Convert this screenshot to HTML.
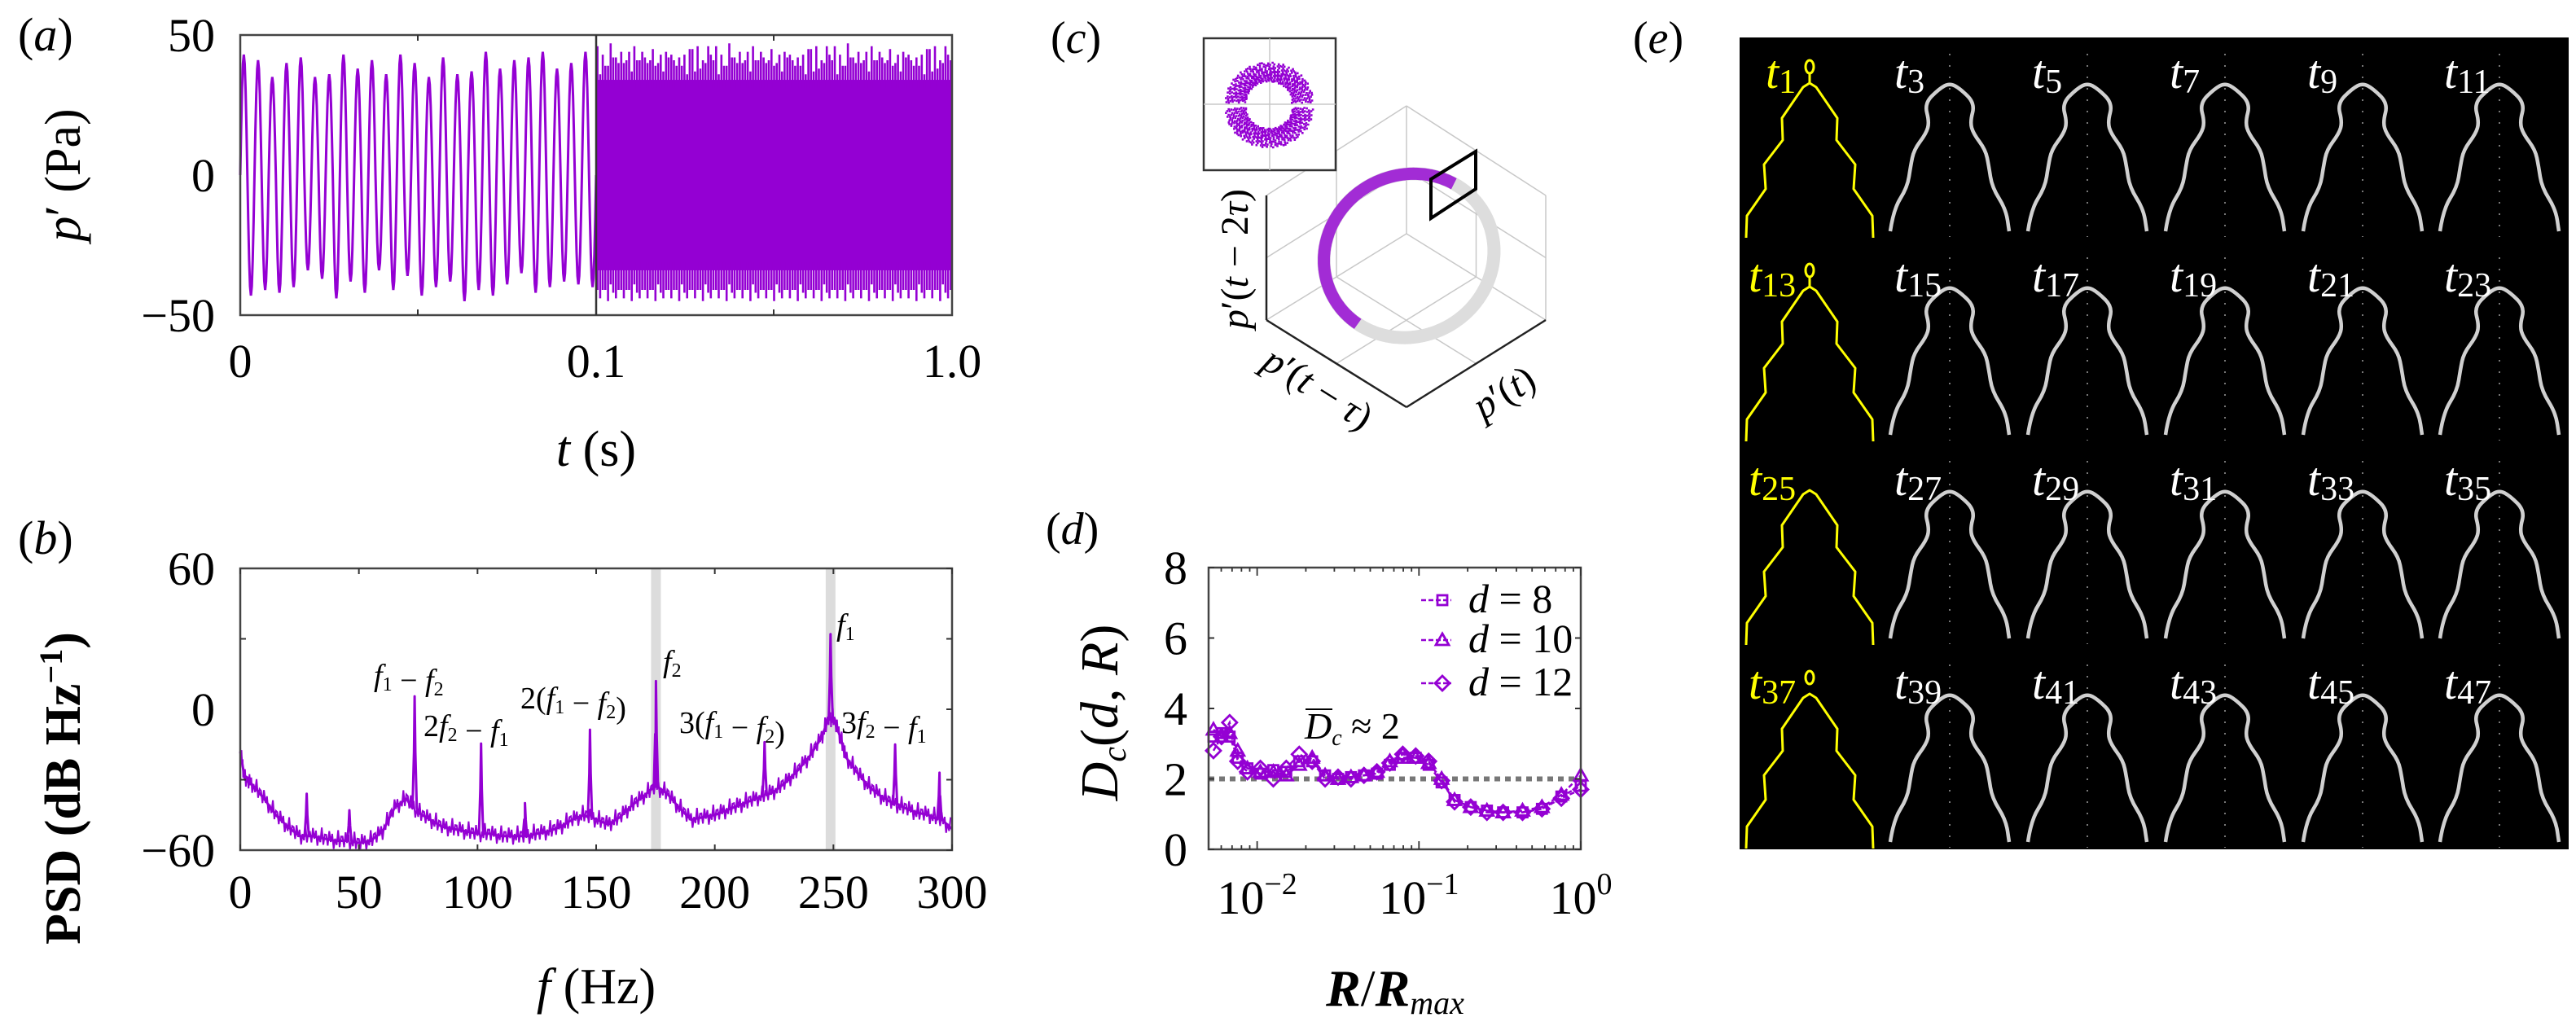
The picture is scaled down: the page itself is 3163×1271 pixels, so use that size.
<!DOCTYPE html>
<html><head><meta charset="utf-8">
<style>
html,body{margin:0;padding:0;background:#fff;}
svg{display:block;font-family:"Liberation Serif",serif;}
</style></head>
<body>
<svg id="fig" width="3163" height="1271" viewBox="0 0 3163 1271" xmlns="http://www.w3.org/2000/svg" font-family="Liberation Serif, serif">
<g id="pa"></g>
<g id="pb"></g>
<g id="pc"></g>
<g id="pd"></g>
<g id="pe"></g>
</svg>
<script>
// ---------- Panel (a) data ----------
const aPeaks = [43,41,35,40,42,35,36,43,38,41,36,43,40,35,42,36,37,44,38,41,42,44,38,40,44];
const aTroughs = [-43,-41,-42,-40,-34,-37,-44,-38,-42,-34,-41,-36,-43,-40,-38,-45,-41,-43,-39,-35,-42,-40,-38,-39,-40];
const aUpperEnv = [46,40,44,38,45,41,43,39,46,42,44,40,45,39,43,41,46,40,44,42,45,39,44,41,46,43,40,45,42,44,39,46,41,43,40,47,42,45,41,44,40,46,42,43,39];
const aLowerEnv = [-44,-40,-46,-41,-45,-39,-46,-42,-44,-40,-46,-41,-45,-43,-40,-46,-42,-45,-41,-44,-39,-46,-43,-45,-40,-47,-42,-45,-41,-46,-43,-40,-47,-42,-45,-41,-46,-40,-44,-42,-47,-41,-45,-43,-46];
const aCore = [34,-34];
const aTicksY = [50,0,-50];
const aTicksX = ["0","0.1","1.0"];
// ---------- Panel (b) data ----------
const bFreq = [0,2,5,10,15,20,25,30,35,40,45,50,55,60,65,70,75,80,85,90,95,100,105,110,115,120,125,130,135,140,145,150,155,160,165,170,175,180,185,190,195,200,205,210,215,220,225,230,235,240,245,248,250,253,255,260,265,270,275,280,285,290,295,300];
const bBase = [-18,-30,-32,-38,-45,-50,-54,-54,-55,-56,-56,-57,-56,-52,-42,-38,-44,-47,-50,-51,-52,-53,-53,-54,-54,-54,-53,-52,-50,-47,-45,-47,-49,-46,-41,-37,-33,-36,-42,-47,-46,-45,-43,-41,-39,-37,-35,-31,-26,-20,-12,-4,-4,-12,-20,-27,-33,-37,-40,-42,-44,-45,-47,-51];
const bPeakF = [28,46,73.5,101.5,120,147.4,175.2,221,248.8,276,294.7];
const bPeakV = [-36,-43,5.5,-14.6,-40,-8.7,12,-14,32,-15,-27];
const bTicksX = [0,50,100,150,200,250,300];
const bTicksY = [60,0,-60];
const bBands = [175.2,248.8];
// ---------- Panel (d) data ----------
const dLogR = [-2.27,-2.22,-2.17,-2.12,-2.06,-1.98,-1.90,-1.82,-1.74,-1.66,-1.58,-1.50,-1.42,-1.34,-1.26,-1.18,-1.10,-1.02,-0.94,-0.86,-0.78,-0.68,-0.58,-0.48,-0.36,-0.24,-0.12,0];
const dD8 = [3.2,3.3,3.2,2.6,2.3,2.15,2.25,2.2,2.5,2.5,2.1,2.0,2.05,2.1,2.15,2.4,2.6,2.6,2.4,1.9,1.4,1.2,1.1,1.05,1.05,1.15,1.5,1.8];
const dD10 = [3.4,3.2,3.3,2.8,2.3,2.2,2.2,2.1,2.4,2.6,2.1,2.0,2.05,2.1,2.2,2.5,2.7,2.6,2.45,2.0,1.4,1.2,1.1,1.05,1.1,1.2,1.55,2.1];
const dD12 = [2.8,3.2,3.6,2.5,2.2,2.3,2.0,2.3,2.7,2.5,2.0,2.05,2.0,2.1,2.2,2.45,2.7,2.65,2.5,1.95,1.35,1.2,1.05,1.05,1.05,1.15,1.45,1.7];
const dTicksY = [0,2,4,6,8];
const dMean = [2];
// ---------- Panel (e) data ----------
const eLabels = [1,3,5,7,9,11,13,15,17,19,21,23,25,27,29,31,33,35,37,39,41,43,45,47];

const NS="http://www.w3.org/2000/svg";
const PUR="#9400d3";
function mk(parent,tag,attrs){const e=document.createElementNS(NS,tag);for(const k in attrs)e.setAttribute(k,attrs[k]);parent.appendChild(e);return e;}
function txt(parent,x,y,s,size,extra){const t=mk(parent,"text",Object.assign({x:x,y:y,"font-size":size,"font-family":"Liberation Serif, serif"},extra||{}));t.innerHTML=s;return t;}
function smooth(p){let d="M"+p[0][0]+" "+p[0][1];for(let i=1;i<p.length-1;i++){const mx=(p[i][0]+p[i+1][0])/2,my=(p[i][1]+p[i+1][1])/2;d+=" Q"+p[i][0]+" "+p[i][1]+" "+mx+" "+my;}const l=p[p.length-1];d+=" L"+l[0]+" "+l[1];return d;}

// ================= Panel A =================
(function(){
const g=document.getElementById("pa");
const L=295,R=1169,T=43,B=387,M=732;
const ay=v=>215-v*(B-T)/100;
let lab=txt(g,22,62,"(<tspan font-style='italic'>a</tspan>)",58);


let d="M"+L+" "+ay(0);
const n=aPeaks.length, per=(M-L)/n;
for(let i=0;i<n;i++){
  for(let k=1;k<=16;k++){
    const ph=k/16; const x=L+per*(i+ph);
    const s=Math.sin(2*Math.PI*ph);
    const v=s>=0? s*aPeaks[i] : -s*aTroughs[i];
    d+=" L"+x.toFixed(2)+" "+ay(v).toFixed(2);
  }
}
let p=mk(g,"path",{d:d,fill:"none",stroke:PUR,"stroke-width":3});


let core=mk(g,"rect",{x:M,y:ay(aCore[0]),width:R-M,height:ay(aCore[1])-ay(aCore[0]),fill:PUR});


const m=aUpperEnv.length, reps=3, sp=(R-M)/(m*reps);
let du="", dl="";
for(let i=0;i<m*reps;i++){
  const x=M+sp*(i+0.5);
  const up=aUpperEnv[(i*7)%m]-(i%3===1?3:0), lo=aLowerEnv[(i*5+3)%m]+(i%3===2?2:0);
  du+="M"+x.toFixed(1)+" "+ay(aCore[0]-3).toFixed(1)+" L"+x.toFixed(1)+" "+ay(up).toFixed(1)+" ";
  dl+="M"+x.toFixed(1)+" "+ay(aCore[1]+3).toFixed(1)+" L"+x.toFixed(1)+" "+ay(lo).toFixed(1)+" ";
}
let pu=mk(g,"path",{d:du+dl,stroke:PUR,"stroke-width":2.6,fill:"none"});


let fr=mk(g,"rect",{x:L,y:T,width:R-L,height:B-T,fill:"none",stroke:"#444","stroke-width":2.5});


let br=mk(g,"line",{x1:M,y1:T,x2:M,y2:B,stroke:"#333","stroke-width":2.5});


[513,950].forEach(x=>{mk(g,"line",{x1:x,y1:T,x2:x,y2:T+7,stroke:"#333","stroke-width":2});mk(g,"line",{x1:x,y1:B,x2:x,y2:B-7,stroke:"#333","stroke-width":2});});
aTicksY.forEach(v=>{
  const t=txt(g,264,ay(v)+20,(v<0?"−":"")+Math.abs(v),58,{"text-anchor":"end"});
  
  
});
[[L,aTicksX[0]],[M,aTicksX[1]],[R,aTicksX[2]]].forEach(a=>{
  const t=txt(g,a[0],463,a[1],58,{"text-anchor":"middle"});
  
  
});
let xt=txt(g,732,572,"<tspan font-style='italic'>t</tspan> (s)",62,{"text-anchor":"middle"});


let yt=txt(g,0,0,"<tspan font-style='italic'>p</tspan>′ (Pa)",62,{"text-anchor":"middle",transform:"translate(98,215) rotate(-90)"});


})();

// ================= Panel B =================
(function(){
const g=document.getElementById("pb");
const L=295,R=1169,T=698,B=1044;
const bx=f=>L+f/300*(R-L);
const by=v=>871-v*(B-T)/120;
let lab=txt(g,22,680,"(<tspan font-style='italic'>b</tspan>)",58);


bBands.forEach(f=>{
  const r=mk(g,"rect",{x:bx(f)-6,y:T,width:12,height:B-T,fill:"#dcdcdc"});
  
  
});
let pts=bFreq.map((f,i)=>[f,bBase[i]]);
bPeakF.forEach((f,i)=>{
  let j=0; while(j<bFreq.length-1 && bFreq[j+1]<f) j++;
  const t=(f-bFreq[j])/(bFreq[j+1]-bFreq[j]);
  const base=bBase[j]+t*(bBase[j+1]-bBase[j]);
  pts.push([f-0.9,base],[f-0.3,(base+bPeakV[i])/2],[f,bPeakV[i]],[f+0.3,(base+bPeakV[i])/2],[f+0.9,base]);
});
pts.sort((a,b)=>a[0]-b[0]);
let d="";
pts.forEach((p,i)=>{d+=(i?" L":"M")+bx(p[0]).toFixed(1)+" "+by(p[1]).toFixed(1);});
let path=mk(g,"path",{d:d,fill:"none",stroke:PUR,"stroke-width":3,"stroke-linejoin":"round"});


let dn="";
const wig=[2,-3,4,-1,3,-4,1,-2,5,-3,2];
for(let i=0;i<bFreq.length-1;i++){
  for(let k=0;k<8;k++){
    const f=bFreq[i]+(bFreq[i+1]-bFreq[i])*k/8;
    const v=bBase[i]+(bBase[i+1]-bBase[i])*k/8;
    const off=wig[(i*8+k)%wig.length]*0.9;
    dn+=(i||k?" L":"M")+bx(f).toFixed(1)+" "+by(v+off).toFixed(1);
  }
}
let pn=mk(g,"path",{d:dn,fill:"none",stroke:PUR,"stroke-width":2});


let fr=mk(g,"rect",{x:L,y:T,width:R-L,height:B-T,fill:"none",stroke:"#444","stroke-width":2.5});


bTicksX.forEach(f=>{
  mk(g,"line",{x1:bx(f),y1:T,x2:bx(f),y2:T+7,stroke:"#333","stroke-width":2});
  mk(g,"line",{x1:bx(f),y1:B,x2:bx(f),y2:B-7,stroke:"#333","stroke-width":2});
  const t=txt(g,bx(f),1115,String(f),58,{"text-anchor":"middle"});
  
  
});
[-30,30].forEach(v=>{mk(g,"line",{x1:L,y1:by(v),x2:L+7,y2:by(v),stroke:"#333","stroke-width":2});mk(g,"line",{x1:R,y1:by(v),x2:R-7,y2:by(v),stroke:"#333","stroke-width":2});});
bTicksY.forEach(v=>{
  mk(g,"line",{x1:R,y1:by(v),x2:R-7,y2:by(v),stroke:"#333","stroke-width":2});
  const t=txt(g,264,by(v)+20,(v<0?"−":"")+Math.abs(v),58,{"text-anchor":"end"});
  
  
});
const I=s=>"<tspan font-style='italic'>"+s+"</tspan>";
const sub=s=>"<tspan font-size='24' dy='6'>"+s+"</tspan><tspan dy='-6'></tspan>";
const anns=[[459,842,I("f")+sub("1")+" − "+I("f")+sub("2")],[520,904,"2"+I("f")+sub("2")+" − "+I("f")+sub("1")],[639,870,"2("+I("f")+sub("1")+" − "+I("f")+sub("2")+")"],[814,825,I("f")+sub("2")],[834,900,"3("+I("f")+sub("1")+" − "+I("f")+sub("2")+")"],[1027,780,I("f")+sub("1")],[1033,900,"3"+I("f")+sub("2")+" − "+I("f")+sub("1")]];
anns.forEach(a=>{
  const t=txt(g,a[0],a[1],a[2],38);
  
  
});
let xt=txt(g,732,1232,"<tspan font-style='italic'>f</tspan> (Hz)",62,{"text-anchor":"middle"});


let yt=txt(g,0,0,"PSD (dB Hz<tspan font-size='40' dy='-22'>−1</tspan><tspan dy='22'>)</tspan>",62,{"text-anchor":"middle",transform:"translate(98,968) rotate(-90)","font-weight":"bold"});


})();

// ================= Panel C =================
(function(){
const g=document.getElementById("pc");
let lab=txt(g,1290,65,"(<tspan font-style='italic'>c</tspan>)",56);


const light="#c8c8c8", dark="#222";
const top=[1727,130],ctr=[1727,287],lt=[1555,240],lb=[1555,393],rt=[1898,240],rb=[1898,393],bot=[1727,500];
const ln=(a,b,c,w)=>mk(g,"line",{x1:a[0],y1:a[1],x2:b[0],y2:b[1],stroke:c,"stroke-width":w});
const mid=(a,b)=>[(a[0]+b[0])/2,(a[1]+b[1])/2];
let grid=[[ctr,top],[top,lt],[top,rt],[ctr,lb],[ctr,rb],[rt,rb],
 [mid(ctr,top),mid(lt,lb)],[mid(ctr,top),mid(rt,rb)],[mid(top,lt),mid(ctr,lb)],[mid(top,rt),mid(ctr,rb)],
 [mid(ctr,lb),mid(rb,bot)],[mid(ctr,rb),mid(lb,bot)]];
grid.forEach(s=>{const l=ln(s[0],s[1],light,1.5);});
const cx=1730,cy=314,rx=106,ry=99,phi=-0.5;
let dg="",dp="",firstP=true;
const N=360;
for(let i=0;i<=N;i++){
  const th=i/N*2*Math.PI;
  const x=cx+rx*Math.cos(th)*Math.cos(phi)-ry*Math.sin(th)*Math.sin(phi);
  const y=cy+rx*Math.cos(th)*Math.sin(phi)+ry*Math.sin(th)*Math.cos(phi);
  dg+=(i?" L":"M")+x.toFixed(1)+" "+y.toFixed(1);
  let a=Math.atan2(y-cy,x-cx)*180/Math.PI; if(a<0)a+=360;
  if(a>=126&&a<=303){dp+=(firstP?"M":" L")+x.toFixed(1)+" "+y.toFixed(1);firstP=false;}
}
let rg=mk(g,"path",{d:dg,fill:"none",stroke:"#dddddd","stroke-width":16});


let rp=mk(g,"path",{d:dp,fill:"none",stroke:PUR,"stroke-width":15,opacity:0.8});


[[lt,lb],[lb,bot],[bot,rb]].forEach(s=>{const l=ln(s[0],s[1],dark,2.5);});
let pl=mk(g,"polygon",{points:"1757,220 1812,186 1812,232 1757,268",fill:"none",stroke:"#000","stroke-width":4});


let ib=mk(g,"rect",{x:1478,y:47,width:162,height:162,fill:"#fff",stroke:"#333","stroke-width":2.5});


mk(g,"line",{x1:1478,y1:128,x2:1640,y2:128,stroke:light,"stroke-width":1.5});
mk(g,"line",{x1:1559,y1:47,x2:1559,y2:209,stroke:light,"stroke-width":1.5});
let dots="";
for(let i=0;i<800;i++){
  const th=i*2.39996;
  const fr2=(i*0.7548776)%1;
  const r=28+26*fr2;
  const x=1557+r*Math.cos(th);
  const y=125+r*Math.sin(th)*0.92+(Math.sin(th)>0?6:0);
  dots+="M"+x.toFixed(1)+" "+y.toFixed(1)+"h2.6v2.6h-2.6z";
}
let sc=mk(g,"path",{d:dots,fill:PUR});


const I=s=>"<tspan font-style='italic'>"+s+"</tspan>";
let l1=txt(g,0,0,I("p")+"′("+I("t")+" − 2"+I("τ")+")",48,{"text-anchor":"middle",transform:"translate(1532,318) rotate(-90)"});


let l2=txt(g,0,0,I("p")+"′("+I("t")+" − "+I("τ")+")",48,{"text-anchor":"middle",transform:"translate(1610,490) rotate(32)"});


let l3=txt(g,0,0,I("p")+"′("+I("t")+")",48,{"text-anchor":"middle",transform:"translate(1855,495) rotate(-32)"});


})();

// ================= Panel D =================
(function(){
const g=document.getElementById("pd");
const L=1484,R=1941,T=697,B=1043;
const dx=l=>R+l*(R-L)/2.3;
const dy=v=>B-v*(B-T)/8;
let lab=txt(g,1284,668,"(<tspan font-style='italic'>d</tspan>)",56);


let ml=mk(g,"line",{x1:L,y1:dy(dMean[0]),x2:R,y2:dy(dMean[0]),stroke:"#777","stroke-width":6,"stroke-dasharray":"7 6"});


function marker(g2,shape,x,y){
  if(shape==="s") return mk(g2,"rect",{x:x-6,y:y-6,width:12,height:12,fill:"none",stroke:PUR,"stroke-width":2.8});
  if(shape==="t") return mk(g2,"polygon",{points:`${x},${y-8} ${x+8},${y+6} ${x-8},${y+6}`,fill:"none",stroke:PUR,"stroke-width":2.8});
  return mk(g2,"polygon",{points:`${x},${y-9} ${x+9},${y} ${x},${y+9} ${x-9},${y}`,fill:"none",stroke:PUR,"stroke-width":2.8});
}
[[dD8,"s","d8"],[dD10,"t","d10"],[dD12,"d","d12"]].forEach(s=>{
  const sg=mk(g,"g",{});
  
  
  let d="";
  dLogR.forEach((l,i)=>{d+=(i?" L":"M")+dx(l).toFixed(1)+" "+dy(s[0][i]).toFixed(1);});
  mk(sg,"path",{d:d,fill:"none",stroke:PUR,"stroke-width":2.5,"stroke-dasharray":"6 3"});
  dLogR.forEach((l,i)=>{
    const m=marker(sg,s[1],dx(l),dy(s[0][i]));
    
    
  });
});
let fr=mk(g,"rect",{x:L,y:T,width:R-L,height:B-T,fill:"none",stroke:"#444","stroke-width":2.5});


dTicksY.forEach(v=>{
  mk(g,"line",{x1:L,y1:dy(v),x2:L+7,y2:dy(v),stroke:"#333","stroke-width":2});
  mk(g,"line",{x1:R,y1:dy(v),x2:R-7,y2:dy(v),stroke:"#333","stroke-width":2});
  const t=txt(g,1458,dy(v)+20,String(v),58,{"text-anchor":"end"});
  
  
});
for(let dec=-3;dec<=0;dec++){
  for(let k=1;k<10;k++){
    const l=dec+Math.log10(k); if(l<-2.3||l>0) continue;
    const h=k===1?10:5;
    mk(g,"line",{x1:dx(l),y1:B,x2:dx(l),y2:B-h,stroke:"#333","stroke-width":1.8});
    mk(g,"line",{x1:dx(l),y1:T,x2:dx(l),y2:T+h,stroke:"#333","stroke-width":1.8});
  }
}
[-2,-1,0].forEach(e=>{
  const t=txt(g,dx(e),1122,"10<tspan font-size='38' dy='-24'>"+(e<0?"−"+(-e):"0")+"</tspan>",58,{"text-anchor":"middle"});
  
  
});
const legs=[["s","8",737],["t","10",786],["d","12",839]];
legs.forEach(l=>{
  const lg=mk(g,"g",{});
  
  
  mk(lg,"line",{x1:1745,y1:l[2],x2:1782,y2:l[2],stroke:PUR,"stroke-width":2.5,"stroke-dasharray":"6 3"});
  marker(lg,l[0],1771,l[2]);
  txt(lg,1803,l[2]+15,"<tspan font-style='italic'>d</tspan> = "+l[1],50);
});
let an=txt(g,1602,907,"<tspan font-style='italic'>D</tspan><tspan font-size='28' dy='8' font-style='italic'>c</tspan><tspan dy='-8'> ≈ 2</tspan>",46);


mk(g,"line",{x1:1603,y1:871,x2:1636,y2:871,stroke:"#000","stroke-width":2});
let xt=txt(g,1713,1235,"<tspan font-style='italic' font-weight='bold'>R</tspan>/<tspan font-style='italic' font-weight='bold'>R</tspan><tspan font-style='italic' font-size='40' dy='10'>max</tspan>",64,{"text-anchor":"middle"});


let yt=txt(g,0,0,"<tspan font-style='italic'>D</tspan><tspan font-style='italic' font-size='42' dy='10'>c</tspan><tspan dy='-10'>(</tspan><tspan font-style='italic'>d</tspan>, <tspan font-style='italic'>R</tspan>)",66,{"text-anchor":"middle",transform:"translate(1372,875) rotate(-90)"});


})();

// ================= Panel E =================
(function(){
const g=document.getElementById("pe");
let lab=txt(g,2005,65,"(<tspan font-style='italic'>e</tspan>)",56);


let bg=mk(g,"rect",{x:2136,y:46,width:1018,height:997,fill:"#000"});


const greyR=[[0,0],[13,7],[31,25],[25,48],[29,62],[44,82],[48,102],[52,128],[69,155],[73,182]];
const yelR=[[0,0],[8,5],[34,43],[33,70],[56,100],[54,130],[77,163],[78,190]];
const centers=[2222,2394,2563,2732,2901,3069];
eLabels.forEach((n,i)=>{
  const c=i%6, r=Math.floor(i/6);
  const cx=centers[c], top=46+250*r, py=top+56;
  const pts=c===0?yelR:greyR;
  const col=c===0?"#ffff00":"#d0d0d0";
  const cell=mk(g,"g",{});
  
  
  if(c>0) mk(cell,"line",{x1:cx,y1:top+20,x2:cx,y2:top+245,stroke:"#777","stroke-width":2,"stroke-dasharray":"2 12"});
  let P=[];
  for(let k=pts.length-1;k>=0;k--) P.push([cx-pts[k][0],py+pts[k][1]]);
  for(let k=1;k<pts.length;k++) P.push([cx+pts[k][0],py+pts[k][1]]);
  mk(cell,"path",{d:c===0?("M"+P.map(q=>q[0]+" "+q[1]).join(" L")):smooth(P),fill:"none",stroke:col,"stroke-width":c===0?3:4.5,"stroke-linejoin":"round"});
  if(c===0 && r!==2){
    mk(cell,"ellipse",{cx:cx,cy:py-20,rx:5,ry:8,fill:"none",stroke:col,"stroke-width":3});
    if(r!==3) mk(cell,"line",{x1:cx,y1:py-12,x2:cx,y2:py,stroke:col,"stroke-width":3});
  }
  const lx=c===0?(r===0?2168:2147):cx-68;
  const t=txt(cell,lx,top+62,"<tspan font-style='italic'>t</tspan><tspan font-size='42' dy='6'>"+n+"</tspan>",58,{fill:c===0?"#ffff00":"#fff"});
  
  
});
})();
</script>
</body></html>
